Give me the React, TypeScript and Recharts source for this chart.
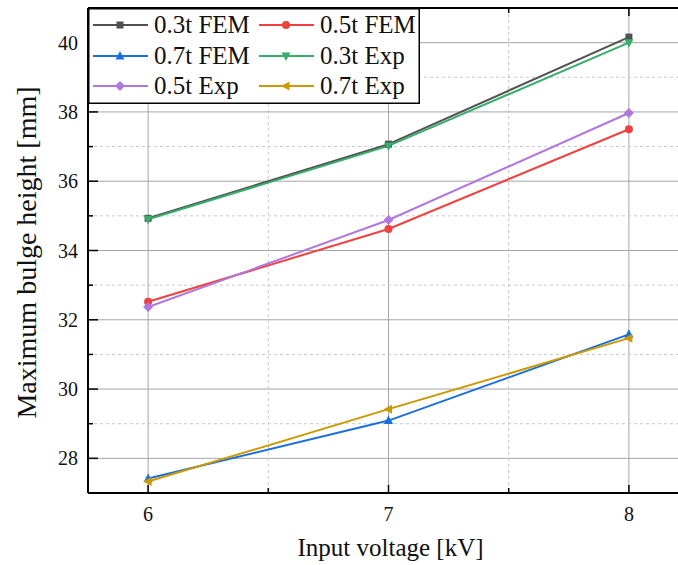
import { CartesianGrid, Label, Line, LineChart, XAxis, YAxis } from "recharts";

const FONT = '"Liberation Serif", "Times New Roman", serif';

// input voltage [kV]
const VOLTAGES = [6, 7, 8];
// maximum bulge height [mm]
const FEM_03 = [34.93, 37.07, 40.16];
const FEM_05 = [32.52, 34.62, 37.5];
const FEM_07 = [27.42, 29.09, 31.58];
const EXP_03 = [34.9, 37.02, 40.0];
const EXP_05 = [32.37, 34.88, 37.97];
const EXP_07 = [27.33, 29.42, 31.47];

const X_TICKS = [6, 6.5, 7, 7.5, 8];
const Y_TICKS = [27, 28, 29, 30, 31, 32, 33, 34, 35, 36, 37, 38, 39, 40, 41];
const Y_MAJOR = [28, 30, 32, 34, 36, 38, 40];
const Y_MINOR = [29, 31, 33, 35, 37, 39];

const SERIES = [
  { key: "fem03", name: "0.3t FEM", color: "#515151", shape: "square", values: FEM_03 },
  { key: "fem05", name: "0.5t FEM", color: "#F14040", shape: "circle", values: FEM_05 },
  { key: "fem07", name: "0.7t FEM", color: "#1A6FDF", shape: "up", values: FEM_07 },
  { key: "exp03", name: "0.3t Exp", color: "#37AD6B", shape: "down", values: EXP_03 },
  { key: "exp05", name: "0.5t Exp", color: "#B177DE", shape: "diamond", values: EXP_05 },
  { key: "exp07", name: "0.7t Exp", color: "#CC9900", shape: "left", values: EXP_07 },
];

const data = VOLTAGES.map((v, i) => {
  const row: Record<string, number> = { v };
  SERIES.forEach((s) => (row[s.key] = s.values[i]));
  return row;
});

function Marker({ shape, cx, cy, color }: { shape: string; cx: number; cy: number; color: string }) {
  if (cx == null || cy == null) return null;
  switch (shape) {
    case "square":
      return <rect x={cx - 3.5} y={cy - 3.5} width={7} height={7} fill={color} />;
    case "circle":
      return <circle cx={cx} cy={cy} r={4} fill={color} />;
    case "up":
      return <polygon points={`${cx},${cy - 5} ${cx - 4.5},${cy + 3.5} ${cx + 4.5},${cy + 3.5}`} fill={color} />;
    case "down":
      return <polygon points={`${cx},${cy + 5} ${cx - 4.5},${cy - 3.5} ${cx + 4.5},${cy - 3.5}`} fill={color} />;
    case "diamond":
      return <polygon points={`${cx},${cy - 5} ${cx + 5},${cy} ${cx},${cy + 5} ${cx - 5},${cy}`} fill={color} />;
    case "left":
      return <polygon points={`${cx - 5},${cy} ${cx + 3.5},${cy - 4.5} ${cx + 3.5},${cy + 4.5}`} fill={color} />;
    default:
      return null;
  }
}

const XTick = (props: any) => {
  const { x, y, payload } = props;
  const v = payload.value;
  const major = Number.isInteger(v);
  return (
    <g>
      <line x1={x} x2={x} y1={y} y2={y - (major ? 8 : 5)} stroke="#000" strokeWidth={1.5} />
      {major && (
        <text x={x} y={y + 28} textAnchor="middle" fontSize={20} fontFamily={FONT} fill="#111">
          {v}
        </text>
      )}
    </g>
  );
};

const TopTick = (props: any) => {
  const { x, y, payload } = props;
  const major = Number.isInteger(payload.value);
  return <line x1={x} x2={x} y1={y} y2={y + (major ? 8 : 5)} stroke="#000" strokeWidth={1.5} />;
};

const YTick = (props: any) => {
  const { x, y, payload } = props;
  const v = payload.value;
  if (v === 27 || v === 41) return <g />;
  const major = v % 2 === 0;
  return (
    <g>
      <line x1={x} x2={x + (major ? 10 : 5)} y1={y} y2={y} stroke="#000" strokeWidth={1.5} />
      {major && (
        <text x={x - 10} y={y + 7} textAnchor="end" fontSize={20} fontFamily={FONT} fill="#111">
          {v}
        </text>
      )}
    </g>
  );
};

function LegendBox() {
  const cols = [0, 166];
  const rows = [17, 48, 78];
  return (
    <svg
      width={332}
      height={96}
      style={{ position: "absolute", left: 88, top: 8, display: "block" }}
    >
      <rect x={0.75} y={0.75} width={330.5} height={94.5} fill="#fff" stroke="#000" strokeWidth={1.5} />
      {SERIES.map((s, i) => {
        const ox = cols[i % 2];
        const cy = rows[Math.floor(i / 2)];
        return (
          <g key={s.key}>
            <line x1={ox + 5} x2={ox + 60} y1={cy} y2={cy} stroke={s.color} strokeWidth={2} />
            <Marker shape={s.shape} cx={ox + 32} cy={cy} color={s.color} />
            <text x={ox + 66} y={cy + 8} fontSize={25} fontFamily={FONT} fill="#111">
              {s.name}
            </text>
          </g>
        );
      })}
    </svg>
  );
}

export default function App() {
  return (
    <div
      style={{
        position: "absolute",
        left: 0,
        top: 0,
        width: 678,
        height: 565,
        overflow: "hidden",
        background: "#fff",
      }}
    >
      <LineChart width={700} height={565} data={data} margin={{ top: 0, right: 11, bottom: 0, left: 0 }}>
        <CartesianGrid horizontalValues={Y_MAJOR} verticalValues={[6, 7, 8]} stroke="#a6a6a6" strokeWidth={1} />
        <CartesianGrid
          horizontalValues={Y_MINOR}
          verticalValues={[6.5, 7.5]}
          stroke="#c8c8c8"
          strokeDasharray="3 3"
          strokeWidth={1}
        />
        <XAxis
          dataKey="v"
          type="number"
          domain={[5.75, 8.25]}
          ticks={X_TICKS}
          interval={0}
          allowDataOverflow
          height={72}
          tickLine={false}
          tickSize={0}
          tickMargin={0}
          tick={<XTick />}
          axisLine={{ stroke: "#000", strokeWidth: 2 }}
        >
          <Label
            content={(p: any) => {
              const vb = p.viewBox;
              return (
                <text x={vb.x + vb.width / 2 + 2} y={vb.y + 63} textAnchor="middle" fontSize={25} fontFamily={FONT} fill="#111">
                  Input voltage [kV]
                </text>
              );
            }}
          />
        </XAxis>
        <XAxis
          xAxisId="top"
          orientation="top"
          dataKey="v"
          type="number"
          domain={[5.75, 8.25]}
          ticks={X_TICKS}
          interval={0}
          allowDataOverflow
          height={8}
          tickLine={false}
          tickSize={0}
          tickMargin={0}
          tick={<TopTick />}
          axisLine={{ stroke: "#000", strokeWidth: 2 }}
        />
        <YAxis
          type="number"
          domain={[27, 41]}
          ticks={Y_TICKS}
          interval={0}
          allowDataOverflow
          width={88}
          tickLine={false}
          tickSize={0}
          tickMargin={0}
          tick={<YTick />}
          axisLine={{ stroke: "#000", strokeWidth: 2 }}
        >
          <Label
            content={(p: any) => {
              const vb = p.viewBox;
              const cx = 36;
              const cy = vb.y + vb.height / 2 + 2;
              return (
                <text
                  x={cx}
                  y={cy}
                  transform={`rotate(-90 ${cx} ${cy})`}
                  textAnchor="middle"
                  fontSize={28}
                  fontFamily={FONT}
                  fill="#111"
                >
                  Maximum bulge height [mm]
                </text>
              );
            }}
          />
        </YAxis>
        {SERIES.map((s) => (
          <Line
            key={s.key}
            dataKey={s.key}
            name={s.name}
            stroke={s.color}
            strokeWidth={2}
            dot={(p: any) => <Marker key={`${s.key}-${p.index}`} shape={s.shape} cx={p.cx} cy={p.cy} color={s.color} />}
            activeDot={false}
            isAnimationActive={false}
          />
        ))}
      </LineChart>
      <LegendBox />
    </div>
  );
}
